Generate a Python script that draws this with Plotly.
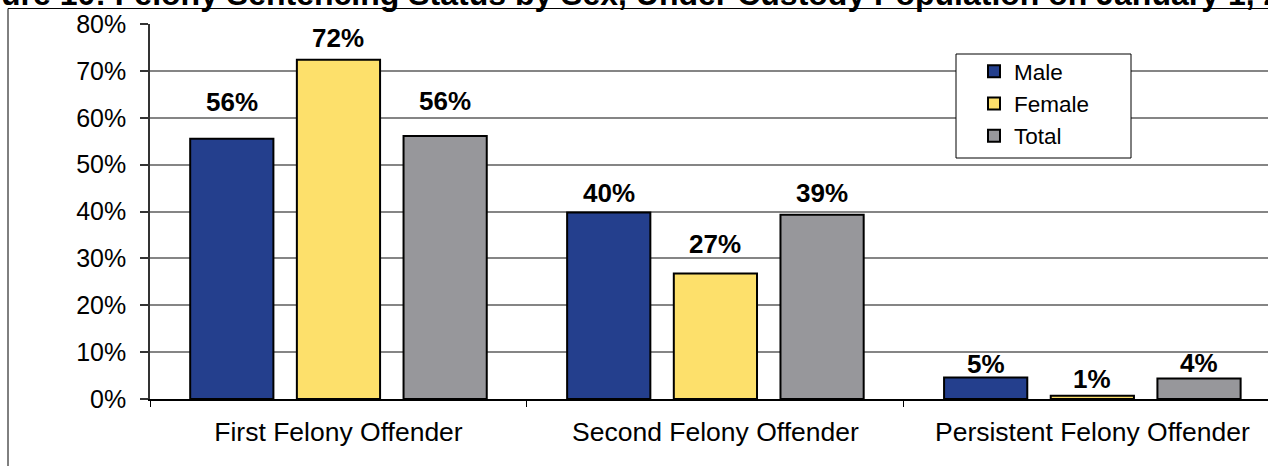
import plotly.graph_objects as go

categories = ["First Felony Offender", "Second Felony Offender", "Persistent Felony Offender"]
male = [55.5, 39.8, 4.6]
female = [72.4, 26.8, 0.7]
total = [56.1, 39.3, 4.4]
male_labels = ["56%", "40%", "5%"]
female_labels = ["72%", "27%", "1%"]
total_labels = ["56%", "39%", "4%"]
y_ticks = [0, 10, 20, 30, 40, 50, 60, 70, 80]
title_text = "Figure 10: Felony Sentencing Status by Sex, Under Custody Population on January 1, 2008"

FONT = "Liberation Sans, Arial, sans-serif"
W, H = 1268, 466
ML, MR, MT, MB = 150, 0, 24, 67
PW = W - ML - MR
PH = H - MT - MB

colors = {"Male": "#243F8D", "Female": "#FDE06B", "Total": "#97979B"}

fig = go.Figure()
for name, vals in [("Male", male), ("Female", female), ("Total", total)]:
    fig.add_trace(go.Bar(
        x=categories, y=vals, name=name,
        marker=dict(color=colors[name], line=dict(color="#000000", width=2)),
        hoverinfo="skip",
    ))

# value labels (manually lifted as in the reference)
lifts = {"Male": [37, 19, 13], "Female": [22, 29, 17], "Total": [35, 22, 15]}
slot = (1 - 0.151) * (PW / 2.966) / 3
offsets = {"Male": -slot, "Female": 0, "Total": slot}
for name, vals, labs in [("Male", male, male_labels), ("Female", female, female_labels), ("Total", total, total_labels)]:
    for i, c in enumerate(categories):
        fig.add_annotation(
            x=c, y=vals[i], xref="x", yref="y", text=labs[i], showarrow=False,
            xshift=offsets[name], yshift=lifts[name][i], yanchor="middle", xanchor="center",
            font=dict(family=FONT, size=26, color="#000000", weight="bold"),
        )

def px_to_paper_x(px):
    return (px - ML) / PW

def px_to_paper_y(py):
    return 1 - (py - MT) / PH

# title (partly outside the picture, as in the reference)
fig.add_annotation(
    text="<b>" + title_text + "</b>", xref="paper", yref="paper",
    x=px_to_paper_x(-49), y=px_to_paper_y(-6), xanchor="left", yanchor="middle",
    showarrow=False, font=dict(family=FONT, size=32, color="#000000"),
)

# outer chart frame
fig.add_shape(type="rect", xref="paper", yref="paper",
              x0=px_to_paper_x(8), x1=px_to_paper_x(1300), y0=px_to_paper_y(500), y1=px_to_paper_y(8.5),
              line=dict(color="#000000", width=1), fillcolor="rgba(0,0,0,0)", layer="above")

# legend box
fig.add_shape(type="rect", xref="paper", yref="paper",
              x0=px_to_paper_x(956), x1=px_to_paper_x(1131), y0=px_to_paper_y(158), y1=px_to_paper_y(54),
              line=dict(color="#000000", width=1), fillcolor="#FFFFFF", layer="above")

fig.update_layout(
    width=W, height=H,
    margin=dict(l=ML, r=MR, t=MT, b=MB, pad=0, autoexpand=False),
    paper_bgcolor="#FFFFFF", plot_bgcolor="#FFFFFF",
    barmode="group", bargap=0.151, bargroupgap=0.22,
    font=dict(family=FONT, color="#000000"),
    showlegend=True,
    legend=dict(
        x=px_to_paper_x(964), y=px_to_paper_y(50), xanchor="left", yanchor="top",
        bgcolor="rgba(0,0,0,0)", borderwidth=0,
        font=dict(family=FONT, size=22.5, color="#000000"),
        tracegroupgap=0, itemsizing="constant", indentation=10,
    ),
)
fig.update_xaxes(
    range=[-0.5, -0.5 + 2.966], showline=True, linecolor="#000000", linewidth=1.5,
    ticks="outside", tickson="boundaries", ticklen=6, tickcolor="#000000", tickwidth=1,
    tickfont=dict(family=FONT, size=26.5, color="#000000"), showgrid=False,
    ticklabelstandoff=8,
)
fig.update_yaxes(
    range=[0, 80], tickvals=y_ticks, ticktext=[f"{v}%" for v in y_ticks],
    showline=True, linecolor="#333333", linewidth=1.5,
    ticks="outside", ticklen=8, tickcolor="#333333", tickwidth=1.5,
    showgrid=True, gridcolor="#858585", gridwidth=1.5, zeroline=False,
    tickfont=dict(family=FONT, size=25, color="#000000"), ticklabelstandoff=9,
)

fig.write_html(
    "out.html",
    config={"displayModeBar": False},
    post_script="document.body.style.margin='0';document.body.style.overflow='hidden';",
)
